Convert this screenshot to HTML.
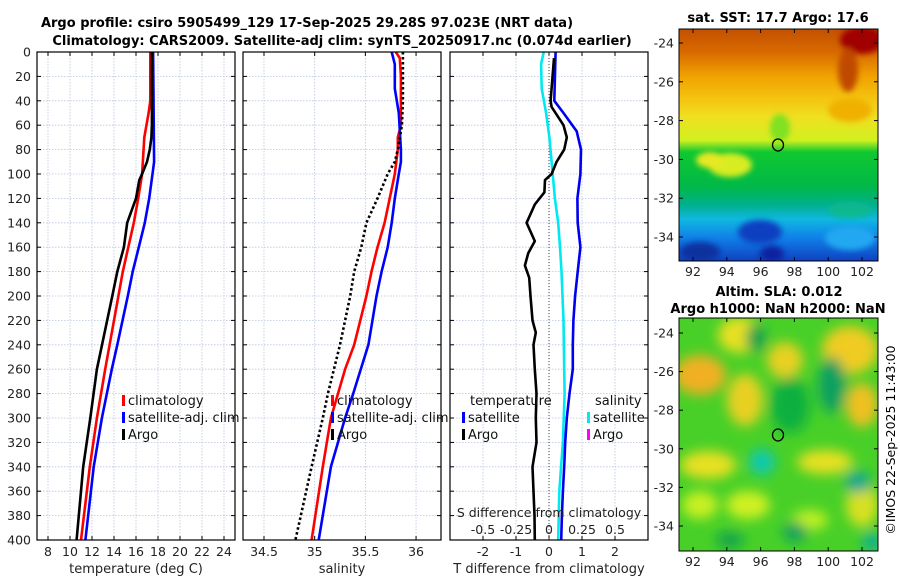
<!DOCTYPE html>
<html><head><meta charset="utf-8">
<style>
html,body{margin:0;padding:0;background:#fff;}
body{width:900px;height:580px;overflow:hidden;font-family:"DejaVu Sans","Liberation Sans",sans-serif;}
svg text{font-family:"DejaVu Sans","Liberation Sans",sans-serif;}
</style></head>
<body>
<svg id="chart" width="900" height="580" viewBox="0 0 900 580" xmlns="http://www.w3.org/2000/svg">
<defs>
<linearGradient id="sstGrad" x1="0" y1="0" x2="0" y2="1">
<stop offset="0" stop-color="#c45000"/>
<stop offset="0.1" stop-color="#d86a00"/>
<stop offset="0.2" stop-color="#f0a000"/>
<stop offset="0.3" stop-color="#f4c410"/>
<stop offset="0.38" stop-color="#f0e020"/>
<stop offset="0.48" stop-color="#d0f020"/>
<stop offset="0.53" stop-color="#10c830"/>
<stop offset="0.68" stop-color="#00b848"/>
<stop offset="0.76" stop-color="#00b090"/>
<stop offset="0.82" stop-color="#10b8e0"/>
<stop offset="0.9" stop-color="#1080e8"/>
<stop offset="1" stop-color="#1040c0"/>
</linearGradient>
<filter id="blur6"><feGaussianBlur stdDeviation="6"/></filter>
<filter id="blur3"><feGaussianBlur stdDeviation="3"/></filter>
<clipPath id="clipMap1"><rect x="679" y="29" width="199" height="232"/></clipPath>
<clipPath id="clipMap2"><rect x="679" y="318" width="199" height="233"/></clipPath>
<clipPath id="clipP1"><rect x="37" y="52" width="198" height="488"/></clipPath>
<clipPath id="clipP2"><rect x="243" y="52" width="198" height="488"/></clipPath>
<clipPath id="clipP3"><rect x="450" y="52" width="198" height="488"/></clipPath>
</defs>

<text x="307" y="27" text-anchor="middle" font-size="13" font-weight="bold">Argo profile: csiro 5905499_129 17-Sep-2025 29.28S 97.023E (NRT data)</text>
<text x="342" y="45" text-anchor="middle" font-size="13" font-weight="bold">Climatology: CARS2009. Satellite-adj clim: synTS_20250917.nc (0.074d earlier)</text>

<!-- SST map -->
<g clip-path="url(#clipMap1)">
<rect x="679" y="29" width="199" height="232" fill="url(#sstGrad)"/>
<g filter="url(#blur3)">
<ellipse cx="862" cy="40" rx="22" ry="14" fill="#a00000"/>
<ellipse cx="848" cy="70" rx="10" ry="22" fill="#c04800"/>
<ellipse cx="730" cy="165" rx="22" ry="12" fill="#d8ec20"/>
<ellipse cx="710" cy="160" rx="14" ry="8" fill="#e8e820"/>
<ellipse cx="780" cy="128" rx="10" ry="14" fill="#80e020"/>
<ellipse cx="850" cy="110" rx="22" ry="12" fill="#f0b000"/>
<ellipse cx="760" cy="232" rx="22" ry="12" fill="#1040c0"/>
<ellipse cx="700" cy="252" rx="20" ry="10" fill="#1030a0"/>
<ellipse cx="772" cy="254" rx="12" ry="8" fill="#0820a0"/>
<ellipse cx="850" cy="238" rx="25" ry="12" fill="#20a8f0"/>
<ellipse cx="850" cy="210" rx="22" ry="8" fill="#10b890"/>
</g>
</g>
<rect x="679" y="29" width="199" height="232" fill="none" stroke="#000" stroke-width="1"/>
<ellipse cx="778" cy="145" rx="5.5" ry="6" fill="none" stroke="#000" stroke-width="1.3"/>
<text x="778" y="22" text-anchor="middle" font-size="13" font-weight="bold">sat. SST: 17.7 Argo: 17.6</text>

<!-- SLA map -->
<g clip-path="url(#clipMap2)">
<rect x="679" y="318" width="199" height="233" fill="#48d028"/>
<g filter="url(#blur6)">
<ellipse cx="700" cy="375" rx="26" ry="20" fill="#f0b020"/>
<ellipse cx="740" cy="335" rx="22" ry="18" fill="#e8e020"/>
<ellipse cx="785" cy="360" rx="18" ry="18" fill="#e8d020"/>
<ellipse cx="850" cy="350" rx="28" ry="24" fill="#f0cc20"/>
<ellipse cx="862" cy="405" rx="16" ry="22" fill="#f0c020"/>
<ellipse cx="745" cy="400" rx="18" ry="26" fill="#e8d020"/>
<ellipse cx="708" cy="465" rx="28" ry="14" fill="#e8e020"/>
<ellipse cx="825" cy="462" rx="28" ry="12" fill="#e8e020"/>
<ellipse cx="700" cy="505" rx="18" ry="14" fill="#c8f020"/>
<ellipse cx="748" cy="505" rx="22" ry="14" fill="#d0f020"/>
<ellipse cx="862" cy="505" rx="16" ry="22" fill="#d8e020"/>
<ellipse cx="810" cy="520" rx="18" ry="10" fill="#c0f020"/>
<ellipse cx="790" cy="405" rx="20" ry="28" fill="#10b040"/>
<ellipse cx="832" cy="385" rx="14" ry="28" fill="#10a060"/>
<ellipse cx="762" cy="462" rx="13" ry="13" fill="#10c8b0"/>
<ellipse cx="858" cy="482" rx="13" ry="11" fill="#10a890"/>
<ellipse cx="756" cy="338" rx="10" ry="14" fill="#10a050"/>
<ellipse cx="795" cy="532" rx="12" ry="10" fill="#10a060"/>
<ellipse cx="872" cy="542" rx="10" ry="10" fill="#10b090"/>
<ellipse cx="730" cy="540" rx="14" ry="8" fill="#10a050"/>
</g>
</g>
<rect x="679" y="318" width="199" height="233" fill="none" stroke="#000" stroke-width="1"/>
<ellipse cx="778" cy="435" rx="5.5" ry="6" fill="none" stroke="#000" stroke-width="1.3"/>
<text x="779" y="296" text-anchor="middle" font-size="13" font-weight="bold">Altim. SLA: 0.012</text>
<text x="778" y="313" text-anchor="middle" font-size="13" font-weight="bold">Argo h1000: NaN h2000: NaN</text>
<text transform="translate(895,440) rotate(-90)" text-anchor="middle" font-size="12.5">©IMOS 22-Sep-2025 11:43:00</text>

<g id="plots"></g>
</svg>
<script>
// ---- data ----
var tDepth = [0,40,50,70,100,120,140,160,180,200,240,260,300,340,400];
var tClim  = [17.3,17.3,17.15,16.75,16.55,16.2,15.8,15.3,14.8,14.4,13.6,13.2,12.45,11.8,11.0];
var tSatDepth = [0,90,100,120,140,160,180,200,240,260,300,340,400];
var tSat   = [17.55,17.65,17.5,17.2,16.8,16.25,15.7,15.25,14.3,13.8,12.9,12.15,11.4];
var tArgoDepth = [0,60,70,80,90,100,105,120,130,140,160,170,180,200,260,300,340,400];
var tArgo  = [17.45,17.45,17.4,17.25,17.0,16.55,16.3,16.0,15.6,15.2,14.9,14.6,14.3,13.85,12.45,11.85,11.2,10.6];

var sClimDepth = [0,5,20,60,70,80,100,120,140,160,180,200,240,260,280,300,340,400];
var sClim = [35.80,35.84,35.85,35.85,35.82,35.82,35.79,35.74,35.69,35.62,35.56,35.51,35.39,35.30,35.23,35.16,35.08,34.97];
var sSatDepth = [0,10,30,50,80,90,100,120,140,160,180,200,240,280,300,340,400];
var sSat = [35.76,35.79,35.79,35.83,35.85,35.85,35.83,35.79,35.76,35.72,35.66,35.61,35.53,35.38,35.30,35.16,35.04];
var sArgoDepth = [0,40,60,80,90,100,110,120,140,160,180,200,240,280,300,340,400];
var sArgo = [35.87,35.87,35.86,35.82,35.79,35.72,35.67,35.62,35.51,35.46,35.39,35.35,35.25,35.13,35.08,34.97,34.81];

var dSatTDepth = [0,40,50,65,80,100,120,140,160,180,200,220,240,260,280,300,320,340,360,380,400];
var dSatT = [0.2,0.16,0.44,0.84,0.97,0.95,0.86,0.87,0.95,0.87,0.79,0.74,0.72,0.72,0.62,0.54,0.49,0.46,0.42,0.39,0.37];
var dArgoTDepth = [5,40,45,60,70,80,90,100,105,115,125,140,155,165,175,185,200,220,230,240,260,280,300,320,340,360,380,400];
var dArgoT = [0.15,0.05,0.08,0.44,0.54,0.46,0.23,0.08,-0.12,-0.14,-0.43,-0.68,-0.43,-0.63,-0.73,-0.6,-0.56,-0.5,-0.4,-0.47,-0.43,-0.38,-0.4,-0.38,-0.5,-0.47,-0.44,-0.43];
var dSatSDepth = [0,10,30,50,70,90,120,140,160,180,220,280,320,360,400];
var dSatS = [-0.04,-0.06,-0.055,-0.022,0.003,0.02,0.045,0.07,0.083,0.095,0.11,0.118,0.105,0.078,0.07];

var depthTicks = [0,20,40,60,80,100,120,140,160,180,200,220,240,260,280,300,320,340,360,380,400];
var tTicks = [8,10,12,14,16,18,20,22,24];
var sTicks = [34.5,35,35.5,36];
var dTTicks = [-2,-1,0,1,2];
var dSTicks = [-0.5,-0.25,0,0.25,0.5];
var dSTickLabels = ["-0.5","-0.25","0","0.25","0.5"];
var mapLonTicks = [92,94,96,98,100,102];
var mapLatTicks = [-24,-26,-28,-30,-32,-34];

// ---- helpers ----
var NS = "http://www.w3.org/2000/svg";
var root = document.getElementById('plots');
function mk(tag, attrs, parent, txt) {
  var e = document.createElementNS(NS, tag);
  for (var k in attrs) e.setAttribute(k, attrs[k]);
  if (txt !== undefined) e.textContent = txt;
  (parent || root).appendChild(e);
  return e;
}
var Y0 = 52, Y1 = 540;
function yScale(d) { return Y0 + (d / 400) * (Y1 - Y0); }
function linScale(a, b, x0, x1) { return function (v) { return x0 + (v - a) / (b - a) * (x1 - x0); }; }

var panels = [
  {name: 'temperature-panel', x0: 37, x1: 235, dom: [7, 25], ticks: tTicks, xlabel: 'temperature (deg C)', clip: 'clipP1', ylabels: true},
  {name: 'salinity-panel', x0: 243, x1: 441, dom: [34.293, 36.246], ticks: sTicks, xlabel: 'salinity', clip: 'clipP2'},
  {name: 'difference-panel', x0: 450, x1: 648, dom: [-3, 3], ticks: dTTicks, xlabel: 'T difference from climatology', clip: 'clipP3'}
];

panels.forEach(function (p) {
  var g = mk('g', {});
  
  
  p.g = g;
  p.x = linScale(p.dom[0], p.dom[1], p.x0, p.x1);
  depthTicks.forEach(function (d) {
    var gl = mk('line', {x1: p.x0, x2: p.x1, y1: yScale(d), y2: yScale(d), stroke: '#b8c4e0', 'stroke-width': 0.8, 'stroke-dasharray': '1.5 1.5'}, g);
    
    
    var tl = mk('line', {x1: p.x0, x2: p.x0 + 4, y1: yScale(d), y2: yScale(d), stroke: '#000', 'stroke-width': 1}, g);
    
    
    var tr = mk('line', {x1: p.x1 - 4, x2: p.x1, y1: yScale(d), y2: yScale(d), stroke: '#000', 'stroke-width': 1}, g);
    
    
    if (p.ylabels) {
      var lb = mk('text', {x: 31, y: yScale(d) + 4.5, 'text-anchor': 'end', 'font-size': 12.5, fill: '#222'}, g, String(d));
      
      
    }
  });
  p.ticks.forEach(function (t) {
    var xx = p.x(t);
    var gl = mk('line', {x1: xx, x2: xx, y1: Y0, y2: Y1, stroke: '#b8c4e0', 'stroke-width': 0.8, 'stroke-dasharray': '1.5 1.5'}, g);
    
    
    var tk = mk('line', {x1: xx, x2: xx, y1: Y1 - 4, y2: Y1, stroke: '#000', 'stroke-width': 1}, g);
    
    
    var tk2 = mk('line', {x1: xx, x2: xx, y1: Y0, y2: Y0 + 4, stroke: '#000', 'stroke-width': 1}, g);
    
    
    var lb = mk('text', {x: xx, y: 556, 'text-anchor': 'middle', 'font-size': 12.5, fill: '#222'}, g, String(t));
    
    
  });
  var xl = mk('text', {x: (p.x0 + p.x1) / 2, y: 573, 'text-anchor': 'middle', 'font-size': 13, fill: '#222'}, g, p.xlabel);
  
  
});

function series(p, depths, vals, color, name, dash) {
  var pts = depths.map(function (d, i) { return p.x(vals[i]).toFixed(1) + ',' + yScale(d).toFixed(1); }).join(' ');
  var a = {points: pts, fill: 'none', stroke: color, 'stroke-width': 2.6, 'stroke-linejoin': 'round', 'clip-path': 'url(#' + p.clip + ')'};
  if (dash) a['stroke-dasharray'] = dash;
  var pl = mk('polyline', a, p.g);
  
  
}

var P1 = panels[0], P2 = panels[1], P3 = panels[2];
series(P1, tDepth, tClim, '#ff0000', 'temperature-climatology-line');
series(P1, tSatDepth, tSat, '#0000ff', 'temperature-satellite-line');
series(P1, tArgoDepth, tArgo, '#000000', 'temperature-argo-line');
series(P2, sClimDepth, sClim, '#ff0000', 'salinity-climatology-line');
series(P2, sSatDepth, sSat, '#0000ff', 'salinity-satellite-line');
series(P2, sArgoDepth, sArgo, '#000000', 'salinity-argo-line', '2.5 2.5');

var zl = mk('line', {x1: P3.x(0), x2: P3.x(0), y1: Y0, y2: Y1, stroke: '#444', 'stroke-width': 1, 'stroke-dasharray': '1 2'}, P3.g);


series(P3, dSatSDepth, dSatS.map(function (v) { return v * 4; }), '#00e8f0', 'salinity-satellite-difference-line');
series(P3, dSatTDepth, dSatT, '#0000ee', 'temperature-satellite-difference-line');
series(P3, dArgoTDepth, dArgoT, '#000000', 'temperature-argo-difference-line');

var st = mk('text', {x: 549, y: 517, 'text-anchor': 'middle', 'font-size': 12.5, fill: '#222'}, P3.g, 'S difference from climatology');


dSTicks.forEach(function (s, i) {
  var t = mk('text', {x: P3.x(s * 4), y: 534, 'text-anchor': 'middle', 'font-size': 12.5, fill: '#222'}, P3.g, dSTickLabels[i]);
  
  
});

panels.forEach(function (p) {
  var f = mk('rect', {x: p.x0, y: Y0, width: p.x1 - p.x0, height: Y1 - Y0, fill: 'none', stroke: '#000', 'stroke-width': 1.2}, p.g);
  
  
});

function legend(g, x, y, color, label) {
  var m = mk('rect', {x: x, y: y - 10, width: 3, height: 11, fill: color}, g);
  
  
  var t = mk('text', {x: x + 6, y: y, 'font-size': 13, fill: '#111'}, g, label);
  
  
}
legend(P1.g, 122, 405, '#ff0000', 'climatology');
legend(P1.g, 122, 422, '#0000ff', 'satellite-adj. clim');
legend(P1.g, 122, 439, '#000000', 'Argo');
legend(P2.g, 331, 405, '#ff0000', 'climatology');
legend(P2.g, 331, 422, '#0000ff', 'satellite-adj. clim');
legend(P2.g, 331, 439, '#000000', 'Argo');
var lt = mk('text', {x: 470, y: 405, 'font-size': 13, fill: '#111'}, P3.g, 'temperature');


var ls = mk('text', {x: 595, y: 405, 'font-size': 13, fill: '#111'}, P3.g, 'salinity');


legend(P3.g, 462, 422, '#0000ff', 'satellite');
legend(P3.g, 462, 439, '#000000', 'Argo');
legend(P3.g, 587, 422, '#00e8f0', 'satellite');
legend(P3.g, 587, 439, '#ff00ff', 'Argo');

function mapAxes(name, top, bottom, latTopY, latBotY) {
  var g = mk('g', {});
  
  
  var lonX = linScale(92, 102, 693, 862);
  var latY = linScale(-24, -34, latTopY, latBotY);
  mapLonTicks.forEach(function (lo) {
    var x = lonX(lo);
    var a = mk('line', {x1: x, x2: x, y1: bottom - 4, y2: bottom, stroke: '#000'}, g);
    
    
    var b = mk('line', {x1: x, x2: x, y1: top, y2: top + 4, stroke: '#000'}, g);
    
    
    var t = mk('text', {x: x, y: bottom + 15, 'text-anchor': 'middle', 'font-size': 12.5, fill: '#222'}, g, String(lo));
    
    
  });
  mapLatTicks.forEach(function (la) {
    var y = latY(la);
    var a = mk('line', {x1: 679, x2: 683, y1: y, y2: y, stroke: '#000'}, g);
    
    
    var b = mk('line', {x1: 874, x2: 878, y1: y, y2: y, stroke: '#000'}, g);
    
    
    var t = mk('text', {x: 674, y: y + 4.5, 'text-anchor': 'end', 'font-size': 12.5, fill: '#222'}, g, String(la));
    
    
  });
}
mapAxes('sst-map-axes', 29, 261, 43, 237);
mapAxes('sla-map-axes', 318, 551, 333, 526);
</script>
</body></html>
